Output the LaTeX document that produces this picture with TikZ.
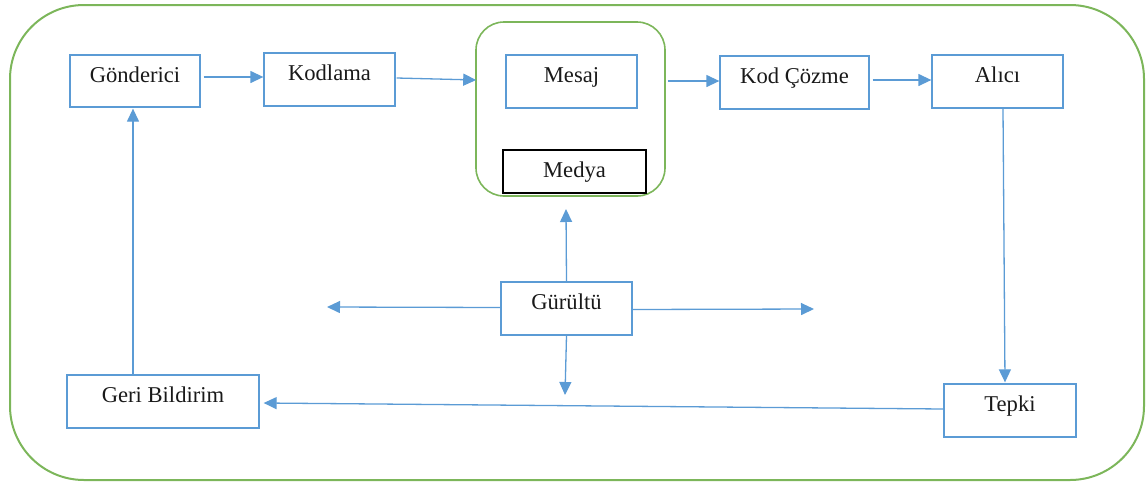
\documentclass[tikz,border=0pt]{standalone}
\usepackage{fontspec}
\setmainfont{Liberation Serif}
\usetikzlibrary{arrows.meta,calc}
\definecolor{boxblue}{HTML}{5B9BD5}
\definecolor{framegreen}{HTML}{7CB65A}
\begin{document}
\begin{tikzpicture}[x=0.5pt,y=-0.5pt,
  txt/.style={anchor=north,inner sep=0pt,yshift=-6.8pt,text=black!90,
    font=\fontsize{11.3}{13}\selectfont,text height=0.69em,text depth=0.22em},
  box/.style n args={2}{draw=boxblue,line width=0.65pt,inner sep=0pt,
    minimum width=#1*0.5pt,minimum height=#2*0.5pt},
  frame/.style={draw=framegreen,line width=0.8pt},
  arr/.style={draw=boxblue,line width=0.65pt,-{Triangle[length=6.5pt,width=6pt]}}]
\useasboundingbox (0,0) rectangle (1146,483);

% outer frame
\node[frame,line width=1pt,rounded corners=37pt,inner sep=0pt,
  minimum width=1134*0.5pt,minimum height=475*0.5pt] (outer) at (577,242.5) {};

% message / media group
\node[frame,rounded corners=14pt,inner sep=0pt,
  minimum width=189*0.5pt,minimum height=174*0.5pt] (grp) at (570.5,109) {};

% boxes
\node[box={130}{52},label={[txt]north:Gönderici}] (gon) at (135,81) {};
\node[box={131}{53},label={[txt]north:Kodlama}] (kod) at (329.5,79.5) {};
\node[box={131}{53},label={[txt]north:Mesaj}] (mesaj) at (571.5,81.5) {};
\node[box={143}{43},draw=black,fill=white,label={[txt]north:Medya}] (medya) at (574.5,171.5) {};
\node[box={149}{53},label={[txt]north:Kod Çözme}] (coz) at (794.5,82.5) {};
\node[box={131}{53},label={[txt]north:Alıcı}] (alici) at (997.5,81.5) {};
\node[box={132}{53},label={[txt]north:Tepki}] (tepki) at (1010,410.5) {};
\node[box={192}{53},label={[txt]north:Geri Bildirim}] (geri) at (163,401.5) {};
\node[box={131}{53},label={[txt]north:Gürültü}] (gur) at (566.5,308.5) {};

% free ends of the noise arrows
\coordinate (nUp) at (566,209);
\coordinate (nDown) at (565,395);
\coordinate (nLeft) at (327,307);
\coordinate (nRight) at (814,309);

% main flow
\draw[arr] ($(gon.east)+(3,-4)$) -- ($(kod.west)+(0,-2.5)$);
\draw[arr] ($(kod.east)+(1,-1.5)$) -- ($(grp.west)+(1,-29)$);
\draw[arr] ($(grp.east)+(2,-28)$) -- ($(coz.west)+(0,-1.5)$);
\draw[arr] ($(coz.east)+(3,-2.5)$) -- ($(alici.west)+(0,-1.5)$);
\draw[arr] ($(alici.south)+(5.5,0)$) -- ($(tepki.north)+(-5,-1)$);
\draw[arr] ($(tepki.west)+(0,-1.5)$) -- ($(geri.east)+(4,1.5)$);
\draw[arr] ($(geri.north)+(-30,0)$) -- ($(gon.south)+(-2,1)$);

% noise
\draw[arr] (gur.north) -- (nUp);
\draw[arr] (gur.south) -- (nDown);
\draw[arr] ($(gur.west)+(0,-1)$) -- (nLeft);
\draw[arr] ($(gur.east)+(0,1)$) -- (nRight);
\end{tikzpicture}
\end{document}
